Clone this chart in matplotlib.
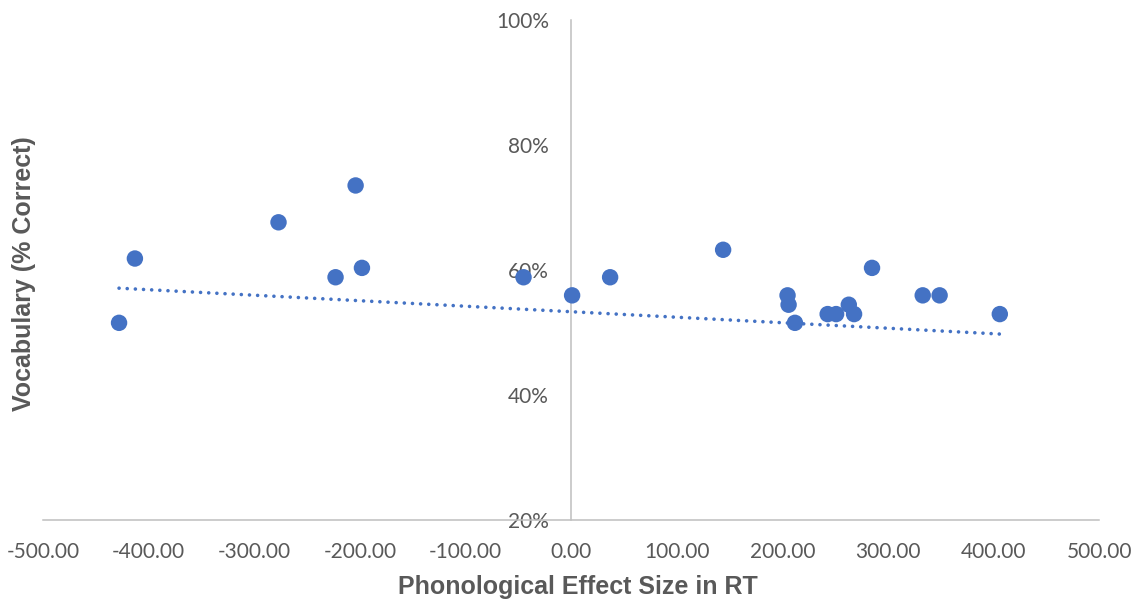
import numpy as np
import matplotlib
matplotlib.use("Agg")
import matplotlib.pyplot as plt
from matplotlib.ticker import FuncFormatter

# Phonological effect size (RT, ms) vs vocabulary score (% correct)
effect_size = [-428, -413, -277, -204, -223, -198, -45, 1, 37, 144,
               205, 206, 212, 243, 251, 263, 268, 285, 333, 349, 406]
vocab_pct = [51.5, 61.8, 67.6, 73.5, 58.8, 60.3, 58.8, 55.9, 58.8, 63.2,
             55.9, 54.4, 51.5, 52.9, 52.9, 54.4, 52.9, 60.3, 55.9, 55.9, 52.9]

# linear trendline coefficients (% correct = intercept + slope * RT)
trend_intercept = 53.28
trend_slope = -0.00881

x_ticks = [-500, -400, -300, -200, -100, 0, 100, 200, 300, 400, 500]
y_ticks = [20, 40, 60, 80, 100]

x_title = "Phonological Effect Size in RT"
y_title = "Vocabulary (% Correct)"

blue = "#4472C4"
text_grey = "#595959"
axis_grey = "#BFBFBF"

fig = plt.figure(figsize=(11.38, 6.01), dpi=100)
ax = fig.add_axes([0.0378, 0.1356, 0.928, 0.8311])

x = np.array(effect_size, dtype=float)
y = np.array(vocab_pct, dtype=float)

ax.scatter(x, y, s=140, color=blue, edgecolors="none", zorder=3)

# trendline spanning the data range
xt = np.array([x.min(), x.max()])
ax.plot(xt, trend_intercept + trend_slope * xt, color=blue, lw=2.6,
        linestyle=(0, (0.01, 2.25)), dash_capstyle="round", zorder=2)

ax.set_xlim(-500, 500)
ax.set_ylim(20, 100)
ax.set_xticks(x_ticks)
ax.set_yticks(y_ticks)
ax.xaxis.set_major_formatter(FuncFormatter(lambda v, p: f"{v:.2f}"))
ax.yaxis.set_major_formatter(FuncFormatter(lambda v, p: f"{v:.0f}%"))

for side in ("top", "right"):
    ax.spines[side].set_visible(False)
ax.spines["left"].set_position(("data", 0))
for side in ("left", "bottom"):
    ax.spines[side].set_color(axis_grey)
    ax.spines[side].set_linewidth(1.1)

ax.tick_params(axis="both", length=0, labelsize=15, labelcolor=text_grey)
ax.tick_params(axis="x", pad=16)
ax.tick_params(axis="y", pad=16)
for lab in ax.get_xticklabels() + ax.get_yticklabels():
    lab.set_fontfamily("Lato")

fig.text(0.5075, 0.024, x_title, ha="center", va="center", fontsize=18,
         fontweight="bold", color=text_grey, family="Liberation Sans")
fig.text(0.021, 0.545, y_title, ha="center", va="center", rotation=90,
         fontsize=18, fontweight="bold", color=text_grey,
         family="Liberation Sans")

fig.savefig("out.png", dpi=100)
